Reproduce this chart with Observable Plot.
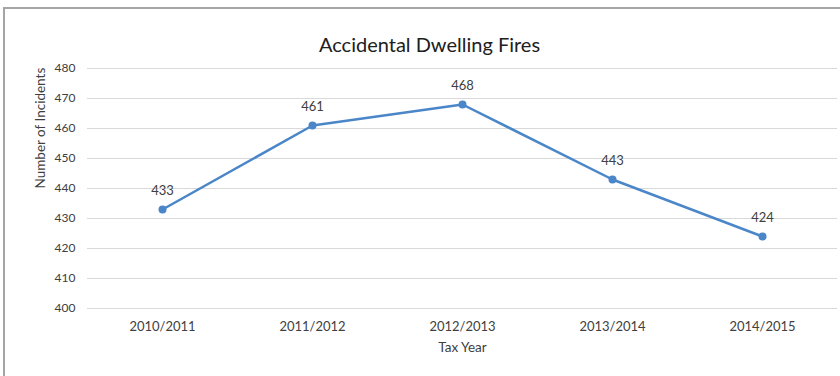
<!DOCTYPE html>
<html>
<head>
<meta charset="utf-8">
<script src="https://cdn.jsdelivr.net/npm/d3@7"></script>
<script src="https://cdn.jsdelivr.net/npm/@observablehq/plot@0.6"></script>
<style>
  html, body { margin: 0; padding: 0; background: #fff; overflow: hidden; }
  #wrap { position: relative; width: 840px; height: 376px; }
  #border { position: absolute; left: 3px; top: 7px; width: 860px; height: 400px; border: 2px solid #a5a5a5; box-sizing: border-box; pointer-events: none; }
</style>
</head>
<body>
<div id="wrap"><div id="border"></div></div>
<script>
const years = ["2010/2011", "2011/2012", "2012/2013", "2013/2014", "2014/2015"];
const incidents = [433, 461, 468, 443, 424];
const yTicks = [400, 410, 420, 430, 440, 450, 460, 470, 480];
const title = "Accidental Dwelling Fires";
const xLabel = "Tax Year";
const yLabel = "Number of Incidents";

const data = years.map((y, i) => ({year: y, value: incidents[i]}));
const blue = "#4a86c8";
const textCol = "#404040";
const font = 'Lato, "DejaVu Sans Condensed", sans-serif';

const chart = Plot.plot({
  width: 840,
  height: 376,
  marginLeft: 87,
  marginRight: 3,
  marginTop: 68,
  marginBottom: 68,
  style: {fontFamily: font, color: textCol, background: "transparent"},
  x: {type: "point", domain: years, padding: 0.5, label: null},
  y: {domain: [400, 480], ticks: yTicks, label: null},
  marks: [
    Plot.gridY(yTicks, {stroke: "#d9d9d9", strokeOpacity: 1, strokeWidth: 1.2}),
    Plot.axisY(yTicks, {tickSize: 0, tickPadding: 12, fontSize: 12, fill: textCol}),
    Plot.axisX({tickSize: 0, tickPadding: 13, fontSize: 13, fill: textCol}),
    Plot.line(data, {x: "year", y: "value", stroke: blue, strokeWidth: 2.5}),
    Plot.dot(data, {x: "year", y: "value", fill: blue, r: 4}),
    Plot.text(data, {x: "year", y: "value", text: d => String(d.value), dy: -19, fontSize: 13, fill: textCol}),
    Plot.text([title], {frameAnchor: "top", dx: -33, dy: -31, fontSize: 20, fill: "#202020"}),
    Plot.text([xLabel], {frameAnchor: "bottom", dy: 43, fontSize: 13.5, fill: textCol}),
    Plot.text([yLabel], {frameAnchor: "left", dx: -47, rotate: -90, fontSize: 13.5, fill: textCol})
  ]
});
document.getElementById("wrap").prepend(chart);
</script>
</body>
</html>
